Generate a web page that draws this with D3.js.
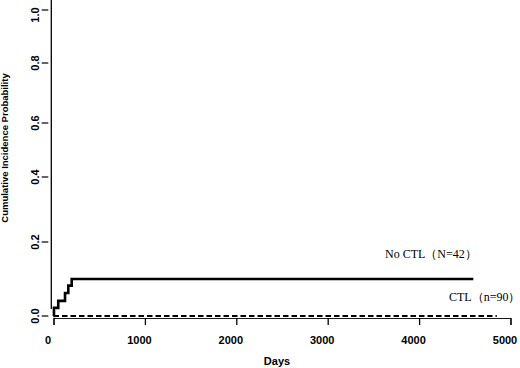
<!DOCTYPE html>
<html>
<head>
<meta charset="utf-8">
<script src="https://cdn.jsdelivr.net/npm/d3@7"></script>
<style>
  body { margin: 0; background: #fff; }
  text { fill: #000; }
</style>
</head>
<body>
<div id="container"></div>
<script>
/* DATA */
const noCtlDays = [0, 5, 52, 126, 162, 199, 4593];
const noCtlProb = [0, 0.022, 0.041, 0.062, 0.082, 0.100, 0.100];
const ctlDays = [0, 4850];
const ctlProb = [0, 0];
const xTicks = [0, 1000, 2000, 3000, 4000, 5000];
const yTicks = [0, 0.2, 0.4, 0.6, 0.8, 1.0];
const seriesLabels = ["No CTL（N=42）", "CTL（n=90）"];

/* CONSTANTS */
const width = 520, height = 368;

const svg = d3.select("#container")
  .append("svg")
  .attr("width", width)
  .attr("height", height)
  .style("background-color", "#fff");

/* SCALES */
const xScale = d3.scaleLinear()
  .domain([0, 5000])
  .range([53.5, 510.5]);

// the scanned figure is not quite evenly spaced, so map each tick where it sits
const yScale = d3.scaleLinear()
  .domain(yTicks)
  .range([316, 242, 177, 123, 63, 10]);

/* AXES */
// left frame line
svg.append("line")
  .attr("x1", 51.3).attr("x2", 51.3)
  .attr("y1", 0).attr("y2", 309)
  .attr("stroke", "#000").attr("stroke-width", 1.3);

const yAxis = svg.append("g");
yAxis.selectAll("line")
  .data(yTicks)
  .join("line")
  .attr("x1", 41.7).attr("x2", 48.3)
  .attr("y1", d => yScale(d)).attr("y2", d => yScale(d))
  .attr("stroke", "#000").attr("stroke-width", 1.2);
yAxis.selectAll("text")
  .data(yTicks)
  .join("text")
  // keep the top label inside the picture
  .attr("transform", d => `translate(38.5,${Math.max(yScale(d), 15)}) rotate(-90)`)
  .attr("text-anchor", "middle")
  .style("font", "bold 11px 'Liberation Sans', Arial, sans-serif")
  .text(d3.format(".1f"));

const xAxis = svg.append("g")
  .attr("transform", "translate(0,318)")
  .call(d3.axisBottom(xScale).tickValues(xTicks).tickSize(7).tickPadding(11).tickFormat(d3.format("d")));
xAxis.select(".domain").attr("stroke-width", 0.9);
xAxis.selectAll(".tick line").attr("stroke-width", 1.3);
xAxis.selectAll("text")
  .attr("dx", -6)
  .style("font", "bold 11px 'Liberation Sans', Arial, sans-serif");

svg.append("text")
  .attr("x", 277).attr("y", 364.5)
  .attr("text-anchor", "middle")
  .style("font", "bold 11px 'Liberation Sans', Arial, sans-serif")
  .text("Days");

svg.append("text")
  .attr("transform", "translate(8,148) rotate(-90)")
  .attr("text-anchor", "middle")
  .style("font", "bold 9.5px 'Liberation Sans', Arial, sans-serif")
  .text("Cumulative Incidence Probability");

/* LINES */
const line = d3.line()
  .x(d => xScale(d[0]))
  .y(d => yScale(d[1]))
  .curve(d3.curveStepAfter);

svg.append("path")
  .datum(d3.zip(ctlDays, ctlProb))
  .attr("d", line)
  .attr("fill", "none")
  .attr("stroke", "#000")
  .attr("stroke-width", 2)
  .attr("stroke-dasharray", "5.5,3");

svg.append("path")
  .datum(d3.zip(noCtlDays, noCtlProb))
  .attr("d", line)
  .attr("fill", "none")
  .attr("stroke", "#000")
  .attr("stroke-width", 2.6);

/* LABELS */
svg.append("text")
  .attr("x", 385).attr("y", 258)
  .style("font", "12px 'Liberation Serif', 'Times New Roman', serif")
  .text(seriesLabels[0]);

svg.append("text")
  .attr("x", 449).attr("y", 301)
  .style("font", "12px 'Liberation Serif', 'Times New Roman', serif")
  .text(seriesLabels[1]);
</script>
</body>
</html>
